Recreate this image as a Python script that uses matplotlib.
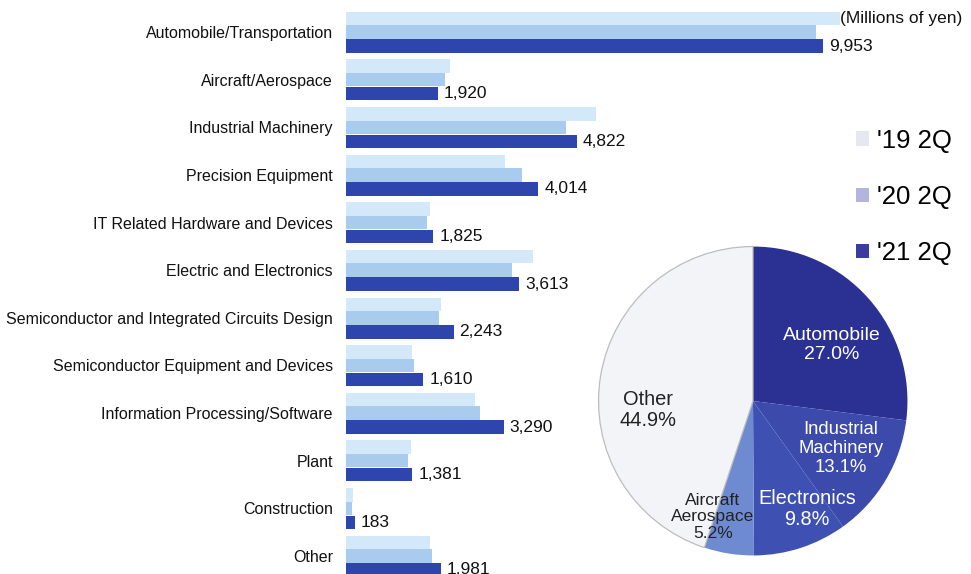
import numpy as np
import matplotlib
matplotlib.use("Agg")
import matplotlib.pyplot as plt
from matplotlib.patches import Patch

categories = [
    "Automobile/Transportation",
    "Aircraft/Aerospace",
    "Industrial Machinery",
    "Precision Equipment",
    "IT Related Hardware and Devices",
    "Electric and Electronics",
    "Semiconductor and Integrated Circuits Design",
    "Semiconductor Equipment and Devices",
    "Information Processing/Software",
    "Plant",
    "Construction",
    "Other",
]
sales_19q2 = [10300, 2170, 5220, 3320, 1750, 3910, 1980, 1380, 2700, 1360, 150, 1760]
sales_20q2 = [9800, 2070, 4600, 3680, 1690, 3470, 1940, 1420, 2800, 1300, 120, 1800]
sales_21q2 = [9953, 1920, 4822, 4014, 1825, 3613, 2243, 1610, 3290, 1381, 183, 1981]
series_labels = ["'19 2Q", "'20 2Q", "'21 2Q"]

pie_labels = ["Automobile", "Industrial\nMachinery", "Electronics", "Aircraft\nAerospace", "Other"]
pie_shares = [27.0, 13.1, 9.8, 5.2, 44.9]

BAR_COLORS = ["#d3e8f8", "#a9cbee", "#2d45ad"]
LEGEND_COLORS = ["#e6e8f0", "#b4b4de", "#3c3ca0"]
PIE_COLORS = ["#2a3192", "#3b4aab", "#3e51b2", "#6e8bd2", "#f3f4f8"]

FONT = ["Liberation Sans", "DejaVu Sans"]

W, H = 971, 574
fig = plt.figure(figsize=(W / 100, H / 100), dpi=100)
fig.patch.set_facecolor("white")

# bar panel: left edge at 346 px, one group every 47.6 px
pitch = 47.6
px_per_unit = 0.04793
ax = fig.add_axes([346 / W, 0, 625 / W, 1])
ax.set_xlim(0, 625 / px_per_unit)
ax.set_ylim(11 + (H - 556) / pitch, -32 / pitch)

y = np.arange(len(categories))
bh = 13.5 / pitch
offsets = [-13.5 / pitch, 0, 14 / pitch]
for vals, off, col in zip([sales_19q2, sales_20q2, sales_21q2], offsets, BAR_COLORS):
    ax.barh(y + off, vals, height=bh, color=col, edgecolor="none")

for yi, v in zip(y, sales_21q2):
    ax.text(v + 6 / px_per_unit, yi + offsets[2], f"{v:,}", ha="left", va="center",
            fontsize=12.5, family=FONT, color="#111111")

ax.set_yticks(y)
ax.set_yticklabels(categories, family=FONT, fontsize=11.5, color="#111111")
ax.tick_params(axis="y", length=0, pad=9.4)
ax.set_xticks([])
for s in ax.spines.values():
    s.set_visible(False)
ax.patch.set_alpha(0)

fig.text(840 / W, 1 - 18 / H, "(Millions of yen)", ha="left", va="center",
         fontsize=12.5, family=FONT, color="#111111")

handles = [Patch(facecolor=c, edgecolor="none") for c in LEGEND_COLORS]
fig.legend(handles, series_labels, loc="center left",
           bbox_to_anchor=(856 / W, 1 - 197 / H), frameon=False,
           prop={"family": FONT, "size": 18.5}, handlelength=0.5,
           handleheight=0.5, handletextpad=0.3, labelspacing=1.25,
           borderpad=0, borderaxespad=0)

# pie panel
cx, cy, r = 753, 401, 156
pax = fig.add_axes([(cx - r) / W, (H - cy - r) / H, 2 * r / W, 2 * r / H])
wedges, _ = pax.pie(pie_shares, colors=PIE_COLORS, startangle=90, counterclock=False,
                    radius=1, wedgeprops={"linewidth": 0})
wedges[-1].set_edgecolor("#bdbdbd")
wedges[-1].set_linewidth(0.9)
pax.set_xlim(-1.01, 1.01)
pax.set_ylim(-1.01, 1.01)
pax.set_aspect("equal")
pax.axis("off")

label_pos = [(0.51, 0.36), (0.57, -0.31), (0.35, -0.70), (-0.26, -0.75), (-0.68, -0.06)]
label_size = [14, 13.3, 14.3, 12.5, 14.4]
label_color = ["white", "white", "white", "#222222", "#222222"]
for name, share, (lx, ly), fs, tc in zip(pie_labels, pie_shares, label_pos, label_size, label_color):
    pax.text(lx, ly, f"{name}\n{share:.1f}%", ha="center", va="center",
             fontsize=fs, family=FONT, color=tc, linespacing=1.15)

fig.savefig("out.png", dpi=100, facecolor="white")
